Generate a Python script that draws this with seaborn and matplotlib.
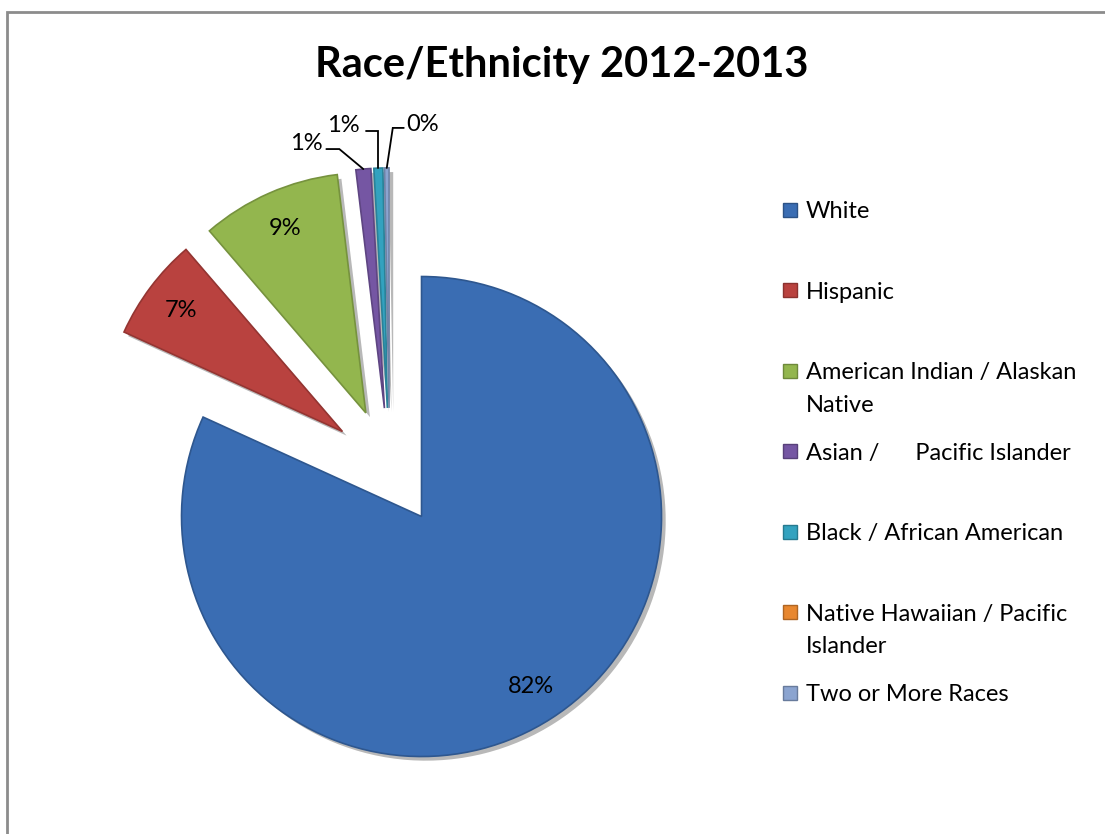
import matplotlib
matplotlib.use("Agg")
import matplotlib.pyplot as plt
import matplotlib.patheffects as pe
from matplotlib.patches import Rectangle
from matplotlib.colors import to_rgb
import numpy as np
import seaborn as sns

# ---- data -------------------------------------------------------------
categories = [
    "White",
    "Hispanic",
    "American Indian / Alaskan\nNative",
    "Asian /      Pacific Islander",
    "Black / African American",
    "Native Hawaiian / Pacific\nIslander",
    "Two or More Races",
]
shares = [81.8, 6.9, 9.4, 1.0, 0.6, 0.0, 0.3]
slice_colors = ["#3a6db3", "#b9423f", "#93b64e", "#7556a3",
                "#33a2bf", "#e8872f", "#8ba4d0"]
title_text = "Race/Ethnicity 2012-2013"

# ---- style ------------------------------------------------------------
sns.set_theme(style="white")
plt.rcParams["font.family"] = ["Lato", "DejaVu Sans"]
palette = sns.color_palette(slice_colors)

W, H = 1105, 834
fig = plt.figure(figsize=(W / 100, H / 100), dpi=100)
ax = fig.add_axes([0, 0, 1, 1])


def px(x, y):
    """Pixel position measured from the top-left corner -> axes data."""
    return x, H - y


def darker(c, f=0.7):
    r, g, b = to_rgb(c)
    return (r * f, g * f, b * f)


# ---- pie --------------------------------------------------------------
radius = 240
center = px(389.6, 466.9)
explode = [59] * len(shares)   # offset of every slice, in axes units

wedges, _ = ax.pie(
    shares,
    colors=palette,
    startangle=90,
    counterclock=False,
    explode=explode,
    radius=radius,
    center=center,
    wedgeprops=dict(
        linewidth=1.2,
        path_effects=[
            pe.SimplePatchShadow(offset=(3, -3), shadow_rgbFace="black", alpha=0.28),
            pe.Normal(),
        ],
    ),
)
for w, c, v in zip(wedges, palette, shares):
    w.set_edgecolor(darker(c, 0.8))
    if v == 0:
        w.set_visible(False)

total = sum(shares)
label_font = 17

# leader-line layout for the narrow slices (offsets in pixels from the rim)
leader_layout = {
    3: dict(start=(-37, -20), elbow=(-24, -20), text=(-41, -19), ha="right"),
    4: dict(start=(-12, -37), elbow=(0, -37), text=(-19, -36.5), ha="right"),
    6: dict(start=(17, -40), elbow=(6, -40), text=(19, -36.5), ha="left"),
}

for i, (w, v) in enumerate(zip(wedges, shares)):
    if v == 0:
        continue
    pct = f"{v / total * 100:.0f}%"
    mid = np.deg2rad((w.theta1 + w.theta2) / 2)
    cx, cy = w.center
    if i in leader_layout:
        lay = leader_layout[i]
        ox, oy = cx + radius * np.cos(mid), cy + radius * np.sin(mid)
        sx, sy = ox + lay["start"][0], oy - lay["start"][1]
        ex, ey = ox + lay["elbow"][0], oy - lay["elbow"][1]
        ax.plot([sx, ex, ox], [sy, ey, oy], color="black", lw=1.3,
                solid_joinstyle="miter", zorder=5)
        ax.text(ox + lay["text"][0], oy - lay["text"][1], pct,
                ha=lay["ha"], va="baseline", fontsize=label_font, color="black")
    else:
        tx = cx + 0.84 * radius * np.cos(mid)
        ty = cy + 0.84 * radius * np.sin(mid)
        ax.text(tx, ty, pct, ha="center", va="center",
                fontsize=label_font, color="black", zorder=6)

# ---- title ------------------------------------------------------------
ax.text(*px(562, 77), title_text, ha="center", va="baseline",
        fontsize=30, fontweight="bold", color="black")

# ---- legend -----------------------------------------------------------
marker_x, marker_size = 783, 14
text_x = 806
first_baseline, row_step, line_step = 218, 80.5, 32.5
for i, (name, c) in enumerate(zip(categories, palette)):
    base = first_baseline + i * row_step
    mx, my = px(marker_x, base - 8.5 + marker_size / 2)
    ax.add_patch(Rectangle((mx, my), marker_size, marker_size,
                           facecolor=c, edgecolor=darker(c, 0.75), lw=1))
    for j, line in enumerate(name.split("\n")):
        ax.text(*px(text_x, base + j * line_step), line, ha="left",
                va="baseline", fontsize=label_font, color="black")

# ---- chart border -----------------------------------------------------
ax.plot(*zip(px(7, H + 5), px(7, 12), px(W + 5, 12)), color="#8c8c8c",
        lw=2, solid_joinstyle="miter", clip_on=False)

ax.set_xlim(0, W)
ax.set_ylim(0, H)
ax.set_aspect("equal")
ax.axis("off")

fig.savefig("out.png", dpi=100, facecolor="white")
